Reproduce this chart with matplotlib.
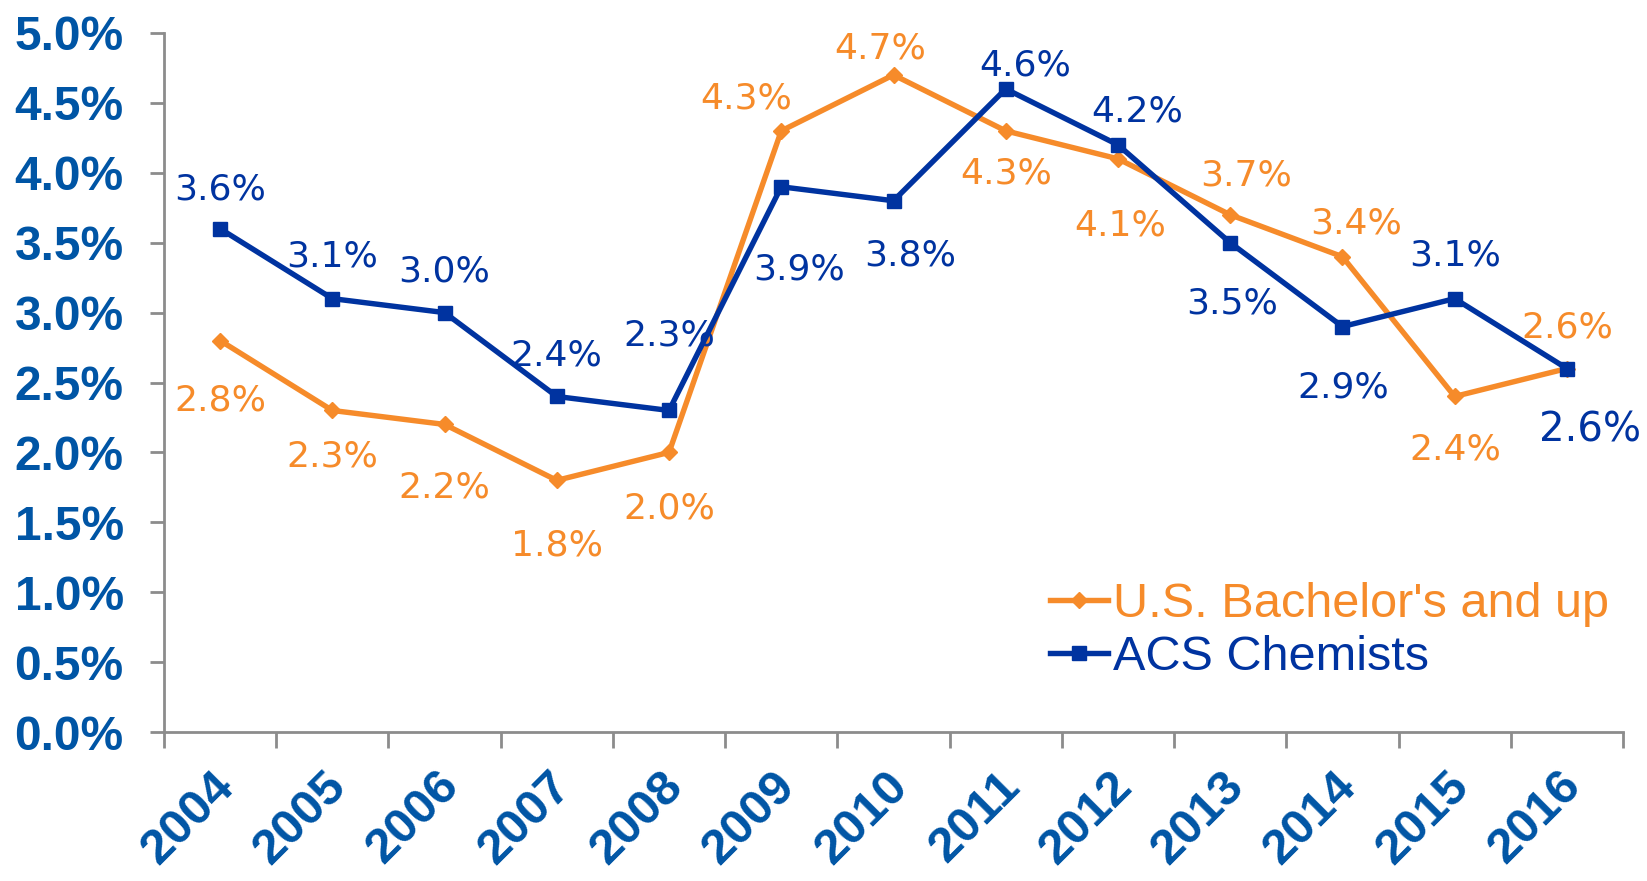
import matplotlib
matplotlib.use("Agg")
import matplotlib.pyplot as plt
import matplotlib.transforms as mtrans
from matplotlib.ticker import FuncFormatter

years = ["2004", "2005", "2006", "2007", "2008", "2009", "2010",
         "2011", "2012", "2013", "2014", "2015", "2016"]
bachelors = [2.8, 2.3, 2.2, 1.8, 2.0, 4.3, 4.7, 4.3, 4.1, 3.7, 3.4, 2.4, 2.6]
acs = [3.6, 3.1, 3.0, 2.4, 2.3, 3.9, 3.8, 4.6, 4.2, 3.5, 2.9, 3.1, 2.6]
series_names = ["U.S. Bachelor's and up", "ACS Chemists"]

# label offsets in pixels (dx, dy)
acs_off = [(0, 39), (0, 42), (0, 41), (0, 41), (0, 75), (18, -83), (17, -55),
           (19, 23), (19, 33), (2, -61), (1, -61), (0, 43), (23, -62)]
bach_off = [(0, -60), (0, -46), (0, -63), (0, -65), (0, -56), (-35, 32), (-13, 26),
            (0, -43), (2, -67), (16, 39), (14, 33), (1, -53), (0, 41)]

ORANGE = "#F68B2A"
BLUE = "#0033A0"
TICKBLUE = "#0055A5"
GRAY = "#8C8C8C"

W, H = 1647, 881
fig = plt.figure(figsize=(W / 100, H / 100), dpi=100)
ax = fig.add_axes([164 / W, 1 - 732 / H, (1623 - 164) / W, (732 - 33) / H])

x = list(range(len(years)))
ax.plot(x, bachelors, color=ORANGE, lw=3.9, marker="D", ms=8, label=series_names[0],
        zorder=3)
ax.plot(x, acs, color=BLUE, lw=3.9, marker="s", ms=10.5, label=series_names[1],
        zorder=4)

for i, v in enumerate(acs):
    fs = 29 if i == len(acs) - 1 else 26
    ax.annotate(f"{v:.1f}%", (x[i], v), xytext=acs_off[i], textcoords="offset pixels",
                ha="center", va="center", color=BLUE, fontsize=fs,
                family="DejaVu Sans", zorder=6)
for i, v in enumerate(bachelors):
    ax.annotate(f"{v:.1f}%", (x[i], v), xytext=bach_off[i], textcoords="offset pixels",
                ha="center", va="center", color=ORANGE, fontsize=26,
                family="DejaVu Sans", zorder=6)

ax.set_xlim(-0.5, len(years) - 0.5)
ax.set_ylim(0, 5.0)
ax.set_yticks([i * 0.5 for i in range(11)])
ax.yaxis.set_major_formatter(FuncFormatter(lambda v, p: f"{v:.1f}%"))
ax.set_xticks([i - 0.5 for i in range(len(years) + 1)])
ax.set_xticklabels([])
ax.set_xticks(x, minor=True)
ax.set_xticklabels(years, minor=True, rotation=45, ha="right", va="center",
                   rotation_mode="anchor", fontsize=35.5, fontweight="bold",
                   color=TICKBLUE, family="Liberation Sans")
ax.tick_params(axis="x", which="minor", length=0, pad=34)
ax.tick_params(axis="x", which="major", length=11.5, width=2, color=GRAY, direction="out")
ax.tick_params(axis="y", length=10, width=2, color=GRAY, direction="out", pad=19,
               labelsize=34.5, labelcolor=TICKBLUE)
shift = mtrans.ScaledTranslation(7 / 100, 0, fig.dpi_scale_trans)
for lab in ax.get_xticklabels(minor=True):
    lab.set_transform(lab.get_transform() + shift)
for lab in ax.get_yticklabels():
    lab.set_fontweight("bold")
    lab.set_family("Liberation Sans")

for s in ["top", "right"]:
    ax.spines[s].set_visible(False)
for s in ["left", "bottom"]:
    ax.spines[s].set_color(GRAY)
    ax.spines[s].set_linewidth(2)

leg = fig.legend(loc="center left", bbox_to_anchor=(1050 / W, 1 - 631 / H),
                 frameon=False, handlelength=1.19, handletextpad=0.1,
                 borderpad=0, borderaxespad=0, labelspacing=0.15,
                 prop={"family": "Liberation Sans", "size": 35})
for t, c in zip(leg.get_texts(), [ORANGE, BLUE]):
    t.set_color(c)

fig.savefig("out.png", dpi=100)
